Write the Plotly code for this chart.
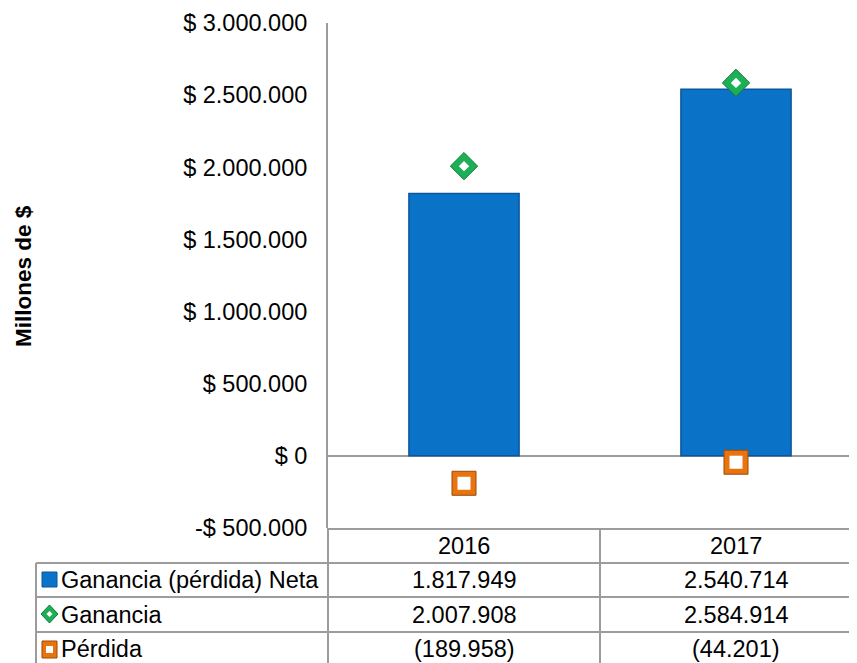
import plotly.graph_objects as go

# ---------------- data ----------------
years = ["2016", "2017"]
series_names = ["Ganancia (pérdida) Neta", "Ganancia", "Pérdida"]
neta = [1817949, 2540714]
ganancia = [2007908, 2584914]
perdida = [-189958, -44201]
tick_values = [-500000, 0, 500000, 1000000, 1500000, 2000000, 2500000, 3000000]
y_title = "Millones de $"

# ---------------- helpers ----------------
FONT = "Liberation Sans, Arial, sans-serif"
OFF = 8                      # page body margin offset
W, H = 857 - OFF, 663 - OFF  # figure size
L, T, B = 328, 23, 528       # plot area in reference px (page coordinates)
PW, PH = 857 - L, B - T
CAT_PX = 272                 # px per category
GRID = "#9c9c9c"
BLUE, BLUE_D = "#0A73C8", "#08579C"
GREEN, GREEN_D = "#1DAE58", "#0E7A3A"
ORANGE, ORANGE_D = "#E8740F", "#9A4A08"


def thousands(v):
    return f"{abs(v):,}".replace(",", ".")


def money(v):
    return ("-$ " if v < 0 else "$ ") + thousands(v)


def cell(v):
    return f"({thousands(v)})" if v < 0 else thousands(v)


def px(X):
    return (X - L) / PW


def py(Y):
    return (B - Y) / PH


fig = go.Figure()

fig.add_trace(go.Bar(
    x=years, y=neta, name=series_names[0], width=0.405,
    marker=dict(color=BLUE, line=dict(color=BLUE_D, width=1.5)),
))
fig.add_trace(go.Scatter(
    x=years, y=ganancia, name=series_names[1], mode="markers",
    marker=dict(symbol="diamond", size=21, color=GREEN,
                line=dict(color=GREEN_D, width=1)),
))
fig.add_trace(go.Scatter(
    x=years, y=ganancia, mode="markers", showlegend=False, hoverinfo="skip",
    marker=dict(symbol="diamond", size=8, color="white"),
))
fig.add_trace(go.Scatter(
    x=years, y=perdida, name=series_names[2], mode="markers",
    marker=dict(symbol="square", size=24, color=ORANGE,
                line=dict(color=ORANGE_D, width=1)),
))
fig.add_trace(go.Scatter(
    x=years, y=perdida, mode="markers", showlegend=False, hoverinfo="skip",
    marker=dict(symbol="square", size=13, color="white"),
))

shapes = []
annotations = []

line = dict(color=GRID, width=2)
RIGHT = 900
BOTTOM = 680
# table horizontal lines
shapes.append(dict(type="line", xref="paper", yref="paper", x0=px(L), x1=px(RIGHT),
                   y0=py(529), y1=py(529), line=line))
for Y in [563, 597, 632]:
    shapes.append(dict(type="line", xref="paper", yref="paper", x0=px(36), x1=px(RIGHT),
                       y0=py(Y), y1=py(Y), line=line))
# table vertical lines
shapes.append(dict(type="line", xref="paper", yref="paper", x0=px(36), x1=px(36),
                   y0=py(563), y1=py(BOTTOM), line=line))
shapes.append(dict(type="line", xref="paper", yref="paper", x0=px(L), x1=px(L),
                   y0=py(B), y1=py(BOTTOM), line=line))
shapes.append(dict(type="line", xref="paper", yref="paper", x0=px(600), x1=px(600),
                   y0=py(529), y1=py(BOTTOM), line=line))

# legend keys
shapes.append(dict(type="rect", xref="paper", yref="paper", x0=px(42), x1=px(57),
                   y0=py(587), y1=py(572), fillcolor=BLUE,
                   line=dict(color=BLUE_D, width=1)))
cx, cy = 49.5, 614
shapes.append(dict(type="path", xref="paper", yref="paper",
                   path=f"M {px(cx)} {py(cy-9)} L {px(cx+8.5)} {py(cy)} L {px(cx)} {py(cy+9)} L {px(cx-8.5)} {py(cy)} Z",
                   fillcolor=GREEN, line=dict(color=GREEN_D, width=1)))
shapes.append(dict(type="path", xref="paper", yref="paper",
                   path=f"M {px(cx)} {py(cy-3)} L {px(cx+3)} {py(cy)} L {px(cx)} {py(cy+3)} L {px(cx-3)} {py(cy)} Z",
                   fillcolor="white", line=dict(width=0)))
shapes.append(dict(type="rect", xref="paper", yref="paper", x0=px(42), x1=px(57),
                   y0=py(658), y1=py(641), fillcolor=ORANGE,
                   line=dict(color=ORANGE_D, width=1)))
shapes.append(dict(type="rect", xref="paper", yref="paper", x0=px(46), x1=px(53),
                   y0=py(653), y1=py(646), fillcolor="white", line=dict(width=0)))

TF = dict(family=FONT, size=23.5, color="black")
# header row
for i, yr in enumerate(years):
    annotations.append(dict(x=i, xref="x", y=py(546), yref="paper", text=yr,
                            showarrow=False, font=TF, xanchor="center", yanchor="middle"))
row_y = [580, 614.5, 649]
for name, vals, ry in zip(series_names, [neta, ganancia, perdida], row_y):
    annotations.append(dict(x=px(59), xref="paper", y=py(ry), yref="paper", text=name,
                            showarrow=False, font=TF, xanchor="left", yanchor="middle"))
    for i, v in enumerate(vals):
        annotations.append(dict(x=i, xref="x", y=py(ry), yref="paper", text=cell(v),
                                showarrow=False, font=TF, xanchor="center", yanchor="middle"))

annotations.append(dict(x=px(23), xref="paper", y=py(276), yref="paper", text=f"<b>{y_title}</b>",
                        textangle=-90, showarrow=False, xanchor="center", yanchor="middle",
                        font=dict(family=FONT, size=22.5, color="black")))

fig.update_layout(
    width=W, height=H,
    margin=dict(l=L - OFF, r=0, t=T - OFF, b=H - (B - OFF), autoexpand=False),
    paper_bgcolor="white", plot_bgcolor="white",
    showlegend=False,
    shapes=shapes, annotations=annotations,
    xaxis=dict(type="category", range=[-0.5, -0.5 + PW / CAT_PX], showticklabels=False,
               showgrid=False, zeroline=False, showline=False, ticks=""),
    yaxis=dict(range=[-500000, 3000000], tickvals=tick_values,
               ticktext=[money(v) for v in tick_values],
               tickfont=dict(family=FONT, size=23.5, color="black"),
               showgrid=False, zeroline=True, zerolinecolor=GRID, zerolinewidth=2,
               showline=True, linecolor=GRID, linewidth=2, ticks="",
               ticklabelstandoff=14),
)

fig.write_html("out.html")
